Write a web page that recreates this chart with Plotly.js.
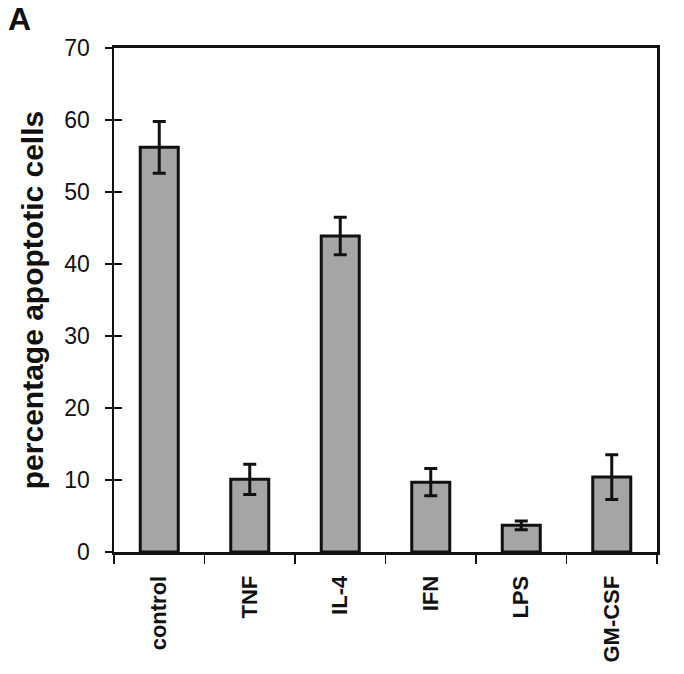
<!DOCTYPE html>
<html>
<head>
<meta charset="utf-8">
<script src="https://cdn.plot.ly/plotly-3.0.1.min.js"></script>
<style>html,body{margin:0;padding:0;background:#fff;}#chart{width:684px;height:674px;}</style>
</head>
<body>
<div id="chart"></div>
<script>
const categories = ["control", "TNF", "IL-4", "IFN", "LPS", "GM-CSF"];
const values = [56.2, 10.1, 43.9, 9.7, 3.7, 10.4];
const errors = [3.6, 2.1, 2.6, 1.9, 0.6, 3.1];
const yTicks = [0, 10, 20, 30, 40, 50, 60, 70];
const yTitle = "percentage apoptotic cells";
const panelLabel = "A";

const FONT = "'Liberation Sans', Arial, Helvetica, sans-serif";

const traces = [
  {
    type: "bar",
    x: categories,
    y: values,
    width: 0.42,
    marker: { color: "#a5a5a5", line: { color: "#111", width: 3 } },
    error_y: { type: "data", array: errors, visible: true, color: "#111", thickness: 3, width: 6.5 },
    hoverinfo: "none"
  },
  {
    type: "scatter",
    x: categories,
    y: values,
    yaxis: "y2",
    mode: "markers",
    marker: { opacity: 0 },
    hoverinfo: "none",
    showlegend: false
  }
];

const layout = {
  width: 684,
  height: 674,
  margin: { l: 114, r: 27, t: 48, b: 122 },
  paper_bgcolor: "#fff",
  plot_bgcolor: "#fff",
  showlegend: false,
  font: { family: FONT, color: "#111" },
  xaxis: {
    type: "category",
    tickson: "boundaries",
    ticks: "outside",
    ticklen: 9,
    tickwidth: 1.5,
    tickcolor: "#111",
    tickangle: -90,
    tickfont: { family: FONT, size: 22, color: "#111", weight: "bold" },
    ticklabelstandoff: 12,
    showline: true,
    linewidth: 3,
    linecolor: "#111",
    mirror: true,
    showgrid: false,
    zeroline: false
  },
  yaxis: {
    range: [0, 70],
    tickvals: yTicks,
    ticktext: yTicks.map(String),
    ticks: "outside",
    ticklen: 7,
    tickwidth: 1.5,
    tickcolor: "#111",
    tickfont: { family: FONT, size: 23, color: "#111" },
    ticklabelstandoff: 10,
    showline: true,
    linewidth: 2.5,
    linecolor: "#111",
    mirror: true,
    showgrid: false,
    zeroline: false,
    title: {
      text: yTitle,
      font: { family: FONT, size: 30, color: "#111", weight: "bold" },
      standoff: 12
    }
  },
  yaxis2: {
    overlaying: "y",
    side: "left",
    anchor: "x",
    range: [0, 70],
    tickvals: yTicks,
    ticks: "inside",
    ticklen: 8,
    tickwidth: 1.5,
    tickcolor: "#111",
    showticklabels: false,
    showline: false,
    showgrid: false,
    zeroline: false
  },
  annotations: [
    {
      text: panelLabel,
      xref: "paper", yref: "paper",
      x: 0, y: 1,
      xshift: -108, yshift: 9,
      xanchor: "left", yanchor: "bottom",
      showarrow: false,
      font: { family: FONT, size: 32, color: "#111", weight: "bold" }
    }
  ]
};

Plotly.newPlot("chart", traces, layout, { staticPlot: true, displayModeBar: false });
</script>
</body>
</html>
